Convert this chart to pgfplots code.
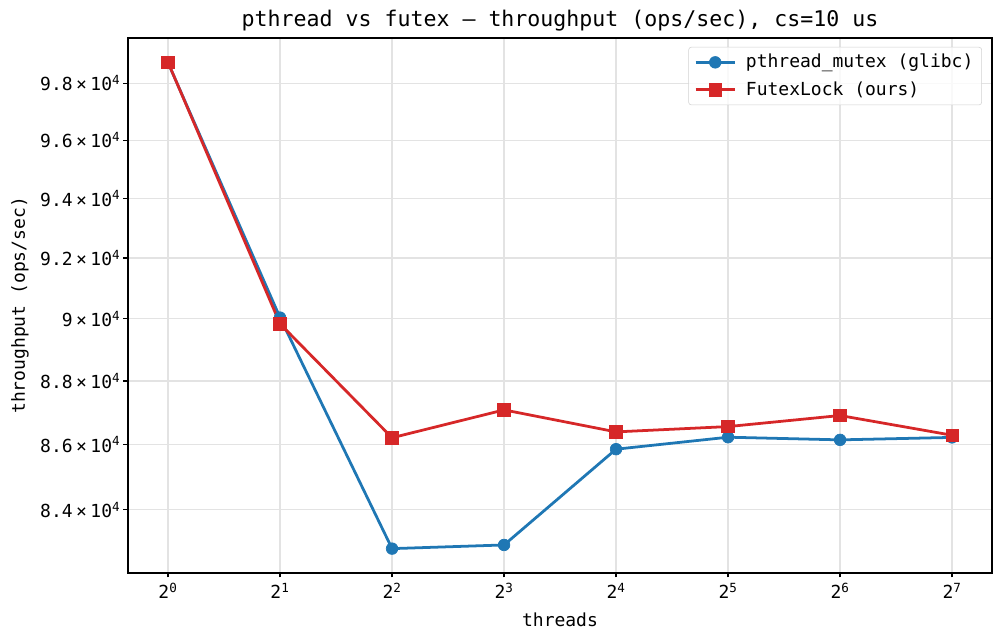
\documentclass[border=0pt]{standalone}
\usepackage{fontspec}
\setmainfont{DejaVu Sans Mono}
\usepackage{pgfplots}
\pgfplotsset{compat=1.18}
\definecolor{tabblue}{HTML}{1F77B4}
\definecolor{tabred}{HTML}{D62728}
\definecolor{gridgray}{HTML}{E3E3E3}
\newcommand{\tm}{\kern2.5pt×\kern2.5pt}
\begin{document}
\fontsize{13pt}{15.6pt}\selectfont
\begin{tikzpicture}
% throughput values below are in units of 10^4 ops/sec
\begin{axis}[
  at={(0,0)}, anchor=south west,
  scale only axis,
  width=8.64in, height=5.35in,
  xmode=log, log basis x=2,
  ymode=log,
  xmin=0.7806, xmax=163.9,
  ymin=8.2097, ymax=9.9621,
  xtick={1,2,4,8,16,32,64,128},
  xticklabels={2\textsuperscript{0},2\textsuperscript{1},2\textsuperscript{2},2\textsuperscript{3},2\textsuperscript{4},2\textsuperscript{5},2\textsuperscript{6},2\textsuperscript{7}},
  ytick={8.4,8.6,8.8,9.0,9.2,9.4,9.6,9.8},
  yticklabels={8.4\tm10\textsuperscript{4},8.6\tm10\textsuperscript{4},8.8\tm10\textsuperscript{4},9\tm10\textsuperscript{4},9.2\tm10\textsuperscript{4},9.4\tm10\textsuperscript{4},9.6\tm10\textsuperscript{4},9.8\tm10\textsuperscript{4}},
  minor tick num=0,
  tick align=outside, tick pos=left,
  major tick length=3.3pt,
  tick style={black, line width=0.9pt},
  axis line style={black, line width=0.9pt},
  grid=major,
  major grid style={gridgray, line width=0.9pt},
  ticklabel style={font=\fontsize{13pt}{15.6pt}\selectfont},
  xticklabel style={inner sep=2pt, yshift=-0.03in},
  yticklabel style={inner sep=2pt},
  xlabel={threads},
  ylabel={throughput (ops/sec)},
  label style={font=\fontsize{13pt}{15.6pt}\selectfont},
  xlabel style={at={(axis description cs:0.5,-0.0879)}, anchor=center},
  ylabel style={at={(axis description cs:-0.125,0.5)}, anchor=center},
  title={pthread vs futex — throughput (ops/sec), cs=10 us},
  title style={font=\fontsize{15.6pt}{18pt}\selectfont, at={(axis description cs:0.5,1.0336)}, anchor=center, yshift=-0.09in},
  legend style={at={(axis description cs:0.9884,0.9832)}, anchor=north east,
    draw=gray!35, rounded corners=2pt, fill=white, fill opacity=0.8, draw opacity=1, text opacity=1,
    font=\fontsize{13pt}{15.6pt}\selectfont, row sep=4pt, inner xsep=4pt, inner ysep=3pt},
  legend cell align=left,
  legend image code/.code={\draw[fill opacity=1, draw opacity=1, line width=2pt, mark repeat=2, mark phase=2] plot coordinates {(0cm,0cm) (0.5cm,0cm) (1cm,0cm)};},
]
\addplot[tabblue, line width=2pt, mark=*, mark size=4.2pt, mark options={solid, fill=tabblue, draw=tabblue, line width=0.5pt}]
  coordinates {(1,9.8735) (2,9.0040) (4,8.2821) (8,8.2931) (16,8.5855) (32,8.6229) (64,8.6145) (128,8.6220)};
\addlegendentry{\kern5pt pthread\_mutex (glibc)}
\addplot[tabred, line width=2pt, mark=square*, mark size=4.5pt, mark options={solid, fill=tabred, draw=tabred, line width=0.5pt}]
  coordinates {(1,9.8746) (2,8.9839) (4,8.6210) (8,8.7084) (16,8.6395) (32,8.6561) (64,8.6907) (128,8.6290)};
\addlegendentry{\kern5pt FutexLock (ours)}
\end{axis}
\pgfresetboundingbox
\path (-1.28in,-0.68in) rectangle (8.76in,5.73in);
\end{tikzpicture}
\end{document}
